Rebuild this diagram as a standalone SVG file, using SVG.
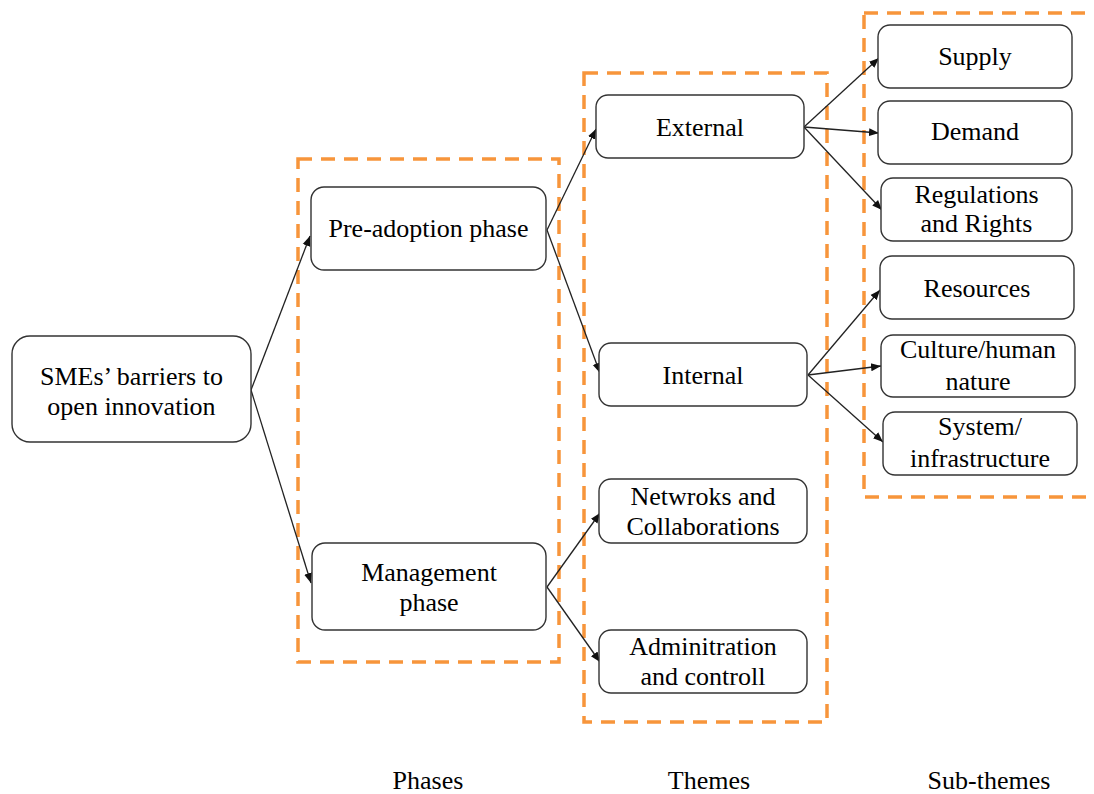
<svg xmlns="http://www.w3.org/2000/svg" width="1094" height="794" viewBox="0 0 1094 794">
  <style>
    .node rect { fill: #ffffff; stroke: #333333; stroke-width: 1.4; }
    .node text, .caption { font-family: "Liberation Serif", "Times New Roman", serif; font-size: 26px; fill: #000000; text-anchor: middle; }
    .group-box { fill: none; stroke: #F7953B; stroke-width: 3.5; stroke-dasharray: 14 9; }
    .edge { fill: none; stroke: #222222; stroke-width: 1.3; marker-end: url(#arrow); }
  </style>
  <defs>
    <marker id="arrow" viewBox="0 0 10 10" refX="10" refY="5" markerWidth="10" markerHeight="10" markerUnits="userSpaceOnUse" orient="auto">
      <path d="M0,1 L10,5 L0,9 Z" fill="#111111"/>
    </marker>
  </defs>

  <rect width="1094" height="794" fill="#ffffff"/>

  <!-- dashed grouping frames -->
  <g id="frames">
    <rect class="group-box" x="298" y="159" width="261" height="503"/>
    <rect class="group-box" x="584" y="73" width="243" height="649"/>
    <rect class="group-box" x="864" y="13" width="260" height="484"/>
  </g>

  <!-- connectors -->
  <g id="connectors">
    <line class="edge" x1="251" y1="390" x2="310" y2="236"/>
    <line class="edge" x1="251" y1="390" x2="311" y2="583"/>
    <line class="edge" x1="547" y1="230" x2="596" y2="129"/>
    <line class="edge" x1="547" y1="230" x2="600" y2="373"/>
    <line class="edge" x1="547" y1="587" x2="600" y2="513"/>
    <line class="edge" x1="547" y1="587" x2="600" y2="662"/>
    <line class="edge" x1="804" y1="127" x2="879" y2="58"/>
    <line class="edge" x1="804" y1="127" x2="879" y2="133"/>
    <line class="edge" x1="804" y1="127" x2="882" y2="210"/>
    <line class="edge" x1="808" y1="375" x2="880" y2="290"/>
    <line class="edge" x1="808" y1="375" x2="881" y2="366"/>
    <line class="edge" x1="808" y1="375" x2="883" y2="442"/>
  </g>

  <!-- root -->
  <g id="node-root" class="node">
    <rect x="12" y="336" width="239" height="106" rx="18"/>
    <text x="131.5" y="385">SMEs’ barriers to</text>
    <text x="131.5" y="415">open innovation</text>
  </g>

  <!-- phases -->
  <g id="node-preadoption" class="node">
    <rect x="311" y="187" width="235" height="83" rx="13"/>
    <text x="428.5" y="237">Pre-adoption phase</text>
  </g>
  <g id="node-management" class="node">
    <rect x="312" y="543" width="234" height="87" rx="13"/>
    <text x="429" y="581">Management</text>
    <text x="429" y="611">phase</text>
  </g>

  <!-- themes -->
  <g id="node-external" class="node">
    <rect x="596" y="95" width="208" height="63" rx="12"/>
    <text x="700" y="136">External</text>
  </g>
  <g id="node-internal" class="node">
    <rect x="599" y="343" width="208" height="63" rx="12"/>
    <text x="703" y="384">Internal</text>
  </g>
  <g id="node-networks" class="node">
    <rect x="599" y="479" width="208" height="64" rx="12"/>
    <text x="703" y="505">Netwroks and</text>
    <text x="703" y="535">Collaborations</text>
  </g>
  <g id="node-administration" class="node">
    <rect x="599" y="630" width="208" height="63" rx="12"/>
    <text x="703" y="655">Adminitration</text>
    <text x="703" y="685">and controll</text>
  </g>

  <!-- sub-themes -->
  <g id="node-supply" class="node">
    <rect x="878" y="25" width="194" height="63" rx="12"/>
    <text x="975" y="65">Supply</text>
  </g>
  <g id="node-demand" class="node">
    <rect x="878" y="101" width="194" height="63" rx="12"/>
    <text x="975" y="140">Demand</text>
  </g>
  <g id="node-regulations" class="node">
    <rect x="881" y="178" width="191" height="63" rx="12"/>
    <text x="976.5" y="203">Regulations</text>
    <text x="976.5" y="232">and Rights</text>
  </g>
  <g id="node-resources" class="node">
    <rect x="880" y="256" width="194" height="63" rx="12"/>
    <text x="977" y="297">Resources</text>
  </g>
  <g id="node-culture" class="node">
    <rect x="881" y="335" width="194" height="62" rx="12"/>
    <text x="978" y="358">Culture/human</text>
    <text x="978" y="390">nature</text>
  </g>
  <g id="node-system" class="node">
    <rect x="883" y="412" width="194" height="63" rx="12"/>
    <text x="980" y="435">System/</text>
    <text x="980" y="467">infrastructure</text>
  </g>

  <!-- column captions -->
  <g id="captions">
    <text class="caption" x="428" y="789">Phases</text>
    <text class="caption" x="709" y="789">Themes</text>
    <text class="caption" x="989" y="789">Sub-themes</text>
  </g>
</svg>
